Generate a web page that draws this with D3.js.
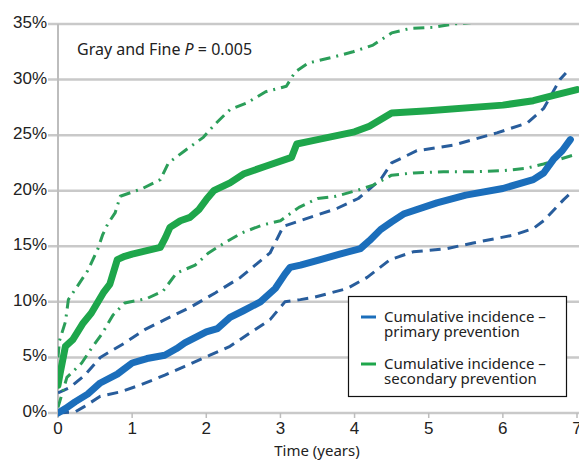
<!DOCTYPE html>
<html>
<head>
<meta charset="utf-8">
<script src="https://cdn.jsdelivr.net/npm/d3@7"></script>
<style>
html,body{margin:0;padding:0;background:#fff;}
svg{display:block;}
</style>
</head>
<body>
<svg id="chart" width="579" height="460"></svg>
<script>
// ---- data ----
const yTicks = [0, 5, 10, 15, 20, 25, 30, 35];
const xTicks = [0, 1, 2, 3, 4, 5, 6, 7];

const primaryT = [0, 0.1, 0.23, 0.4, 0.57, 0.8, 1.0, 1.2, 1.44, 1.6, 1.71, 2.0, 2.15, 2.32, 2.5, 2.73, 2.93, 3.06, 3.13, 3.27, 3.54, 3.8, 4.08, 4.2, 4.35, 4.5, 4.66, 5.11, 5.5, 6.0, 6.41, 6.55, 6.68, 6.8, 6.91];
const primaryV = [0, 0.4, 1.0, 1.7, 2.7, 3.5, 4.5, 4.9, 5.2, 5.8, 6.3, 7.3, 7.6, 8.6, 9.2, 10.0, 11.2, 12.5, 13.1, 13.3, 13.8, 14.3, 14.8, 15.5, 16.5, 17.2, 17.9, 18.9, 19.6, 20.2, 21.0, 21.6, 22.8, 23.6, 24.6];

const primaryUpT = [0, 0.16, 0.36, 0.57, 0.9, 1.17, 1.44, 1.78, 2.12, 2.46, 2.86, 3.04, 3.4, 3.76, 4.05, 4.35, 4.5, 4.84, 5.33, 5.92, 6.33, 6.55, 6.77, 6.85];
const primaryUpV = [1.8, 2.3, 3.4, 5.0, 6.3, 7.5, 8.4, 9.5, 10.8, 12.2, 14.4, 16.8, 17.6, 18.4, 19.3, 21.0, 22.5, 23.6, 24.1, 25.2, 26.1, 27.4, 30.0, 30.6];

const primaryLoT = [0, 0.23, 0.36, 0.57, 0.84, 1.1, 1.44, 1.71, 2.05, 2.32, 2.59, 2.86, 3.06, 3.27, 3.45, 3.9, 4.17, 4.48, 4.79, 5.25, 5.6, 6.14, 6.41, 6.55, 6.82, 6.95];
const primaryLoV = [0, 0.1, 0.6, 1.5, 1.9, 2.5, 3.4, 4.2, 5.2, 6.0, 7.2, 8.4, 10.0, 10.2, 10.4, 11.2, 12.2, 13.8, 14.5, 14.8, 15.3, 16.0, 16.6, 17.3, 19.2, 20.0];

const secondaryT = [0, 0.03, 0.1, 0.2, 0.34, 0.45, 0.61, 0.7, 0.8, 0.9, 1.0, 1.38, 1.45, 1.51, 1.65, 1.78, 1.9, 2.0, 2.1, 2.32, 2.5, 2.8, 3.15, 3.22, 3.5, 4.0, 4.2, 4.5, 5.0, 6.0, 6.41, 6.7, 7.0];
const secondaryV = [2.5, 3.6, 6.0, 6.6, 8.1, 9.0, 10.8, 11.6, 13.8, 14.1, 14.3, 14.9, 15.8, 16.7, 17.3, 17.6, 18.3, 19.2, 20.0, 20.7, 21.5, 22.2, 23.0, 24.2, 24.6, 25.3, 25.8, 27.0, 27.2, 27.7, 28.1, 28.6, 29.1];

const secondaryUpT = [0, 0.02, 0.1, 0.14, 0.4, 0.54, 0.6, 0.67, 0.77, 0.84, 1.14, 1.38, 1.49, 1.71, 1.96, 2.12, 2.32, 2.55, 2.8, 3.08, 3.2, 3.38, 3.7, 3.98, 4.25, 4.5, 4.75, 5.06, 5.33, 5.7];
const secondaryUpV = [5.0, 6.5, 8.2, 10.2, 12.8, 14.8, 16.0, 17.0, 18.0, 19.5, 20.2, 21.0, 22.5, 23.6, 24.8, 26.0, 27.3, 27.9, 28.9, 29.4, 30.7, 31.5, 32.0, 32.5, 33.1, 34.2, 34.6, 34.7, 35.0, 35.2];

const secondaryLoT = [0, 0.12, 0.32, 0.45, 0.6, 0.74, 0.9, 1.2, 1.42, 1.6, 1.85, 2.03, 2.27, 2.48, 2.75, 3.0, 3.25, 3.5, 3.75, 4.02, 4.25, 4.5, 4.8, 5.2, 5.6, 6.0, 6.3, 6.55, 6.8, 7.0];
const secondaryLoV = [0.5, 3.2, 4.5, 5.8, 7.2, 8.8, 9.9, 10.3, 11.0, 12.6, 13.3, 14.4, 15.4, 16.2, 16.9, 17.3, 18.5, 19.3, 19.5, 20.0, 20.5, 21.4, 21.6, 21.7, 21.7, 21.8, 22.0, 22.4, 22.9, 23.3];

const legendLabels = [["Cumulative incidence –", "primary prevention"], ["Cumulative incidence –", "secondary prevention"]];

// ---- drawing ----
const svg = d3.select("#chart");
const x = d3.scaleLinear().domain([0, 7]).range([58, 577]);
const y = d3.scaleLinear().domain([0, 35]).range([413, 24]);

const BLUE = "#1b6ebb", BLUE_D = "#285d9c", GREEN = "#1ea64b", GREEN_D = "#2b9e59";
const sansA = "'Liberation Sans', Arial, sans-serif";
const sansB = "'Noto Sans', 'Open Sans', sans-serif";

// gridlines
svg.append("g").selectAll("line").data(yTicks).join("line")
  .attr("x1", 48).attr("x2", 579)
  .attr("y1", d => y(d)).attr("y2", d => y(d))
  .attr("stroke", "#c9c9c9").attr("stroke-width", 2.5);

// y axis line
svg.append("line").attr("x1", x(0)).attr("x2", x(0))
  .attr("y1", y(35)).attr("y2", y(0) + 4)
  .attr("stroke", "#bdbdbd").attr("stroke-width", 2);

// x tick marks
svg.append("g").selectAll("line").data(xTicks).join("line")
  .attr("x1", d => x(d)).attr("x2", d => x(d))
  .attr("y1", y(0)).attr("y2", y(0) + 5)
  .attr("stroke", "#bdbdbd").attr("stroke-width", 1.5);

// y tick labels
svg.append("g").selectAll("text").data(yTicks).join("text")
  .attr("x", 47).attr("y", d => y(d) + 4)
  .attr("text-anchor", "end")
  .attr("font-family", sansA).attr("font-size", 17).attr("fill", "#222")
  .text(d => d + "%");

// x tick labels
svg.append("g").selectAll("text").data(xTicks).join("text")
  .attr("x", d => x(d)).attr("y", 434)
  .attr("text-anchor", "middle")
  .attr("font-family", sansA).attr("font-size", 17).attr("fill", "#222")
  .text(d => d);

// x axis title
svg.append("text").attr("x", 317).attr("y", 456)
  .attr("text-anchor", "middle")
  .attr("font-family", sansB).attr("font-size", 15).attr("fill", "#222")
  .text("Time (years)");

// clip
svg.append("clipPath").attr("id", "plotclip").append("rect")
  .attr("x", x(0)).attr("y", y(35)).attr("width", 579 - x(0)).attr("height", y(0) - y(35) + 4);

const line = d3.line().x(d => x(d[0])).y(d => y(d[1])).curve(d3.curveLinear);
const zip = (t, v) => t.map((d, i) => [d, v[i]]);

const series = [
  {t: primaryUpT, v: primaryUpV, c: BLUE_D, w: 3, dash: "11,7"},
  {t: primaryLoT, v: primaryLoV, c: BLUE_D, w: 3, dash: "11,7"},
  {t: secondaryUpT, v: secondaryUpV, c: GREEN_D, w: 3, dash: "11,6,2,6"},
  {t: secondaryLoT, v: secondaryLoV, c: GREEN_D, w: 3, dash: "11,6,2,6"},
  {t: primaryT, v: primaryV, c: BLUE, w: 7, dash: null},
  {t: secondaryT, v: secondaryV, c: GREEN, w: 7, dash: null}
];

const g = svg.append("g").attr("clip-path", "url(#plotclip)");
series.forEach(s => {
  g.append("path").datum(zip(s.t, s.v))
    .attr("d", line)
    .attr("fill", "none")
    .attr("stroke", s.c)
    .attr("stroke-width", s.w)
    .attr("stroke-linejoin", "round")
    .attr("stroke-linecap", s.dash ? "butt" : "round")
    .attr("stroke-dasharray", s.dash);
});

// annotation
const ann = svg.append("text").attr("x", 77).attr("y", 55)
  .attr("font-family", sansB).attr("font-size", 16).attr("fill", "#222");
ann.append("tspan").text("Gray and Fine ");
ann.append("tspan").attr("font-style", "italic").text("P");
ann.append("tspan").text(" = 0.005");

// legend
const lg = svg.append("g");
lg.append("rect").attr("x", 348.5).attr("y", 296.5).attr("width", 218).attr("height", 100)
  .attr("fill", "#fff").attr("stroke", "#111").attr("stroke-width", 1.2);
const legColors = [BLUE, GREEN];
legendLabels.forEach((lab, i) => {
  const y0 = 317 + i * 47;
  lg.append("line").attr("x1", 361).attr("x2", 376).attr("y1", y0).attr("y2", y0)
    .attr("stroke", legColors[i]).attr("stroke-width", 3);
  lab.forEach((t, j) => {
    lg.append("text").attr("x", 384).attr("y", y0 + 5 + j * 15)
      .attr("font-family", sansB).attr("font-size", 15).attr("fill", "#222")
      .text(t);
  });
});
</script>
</body>
</html>
